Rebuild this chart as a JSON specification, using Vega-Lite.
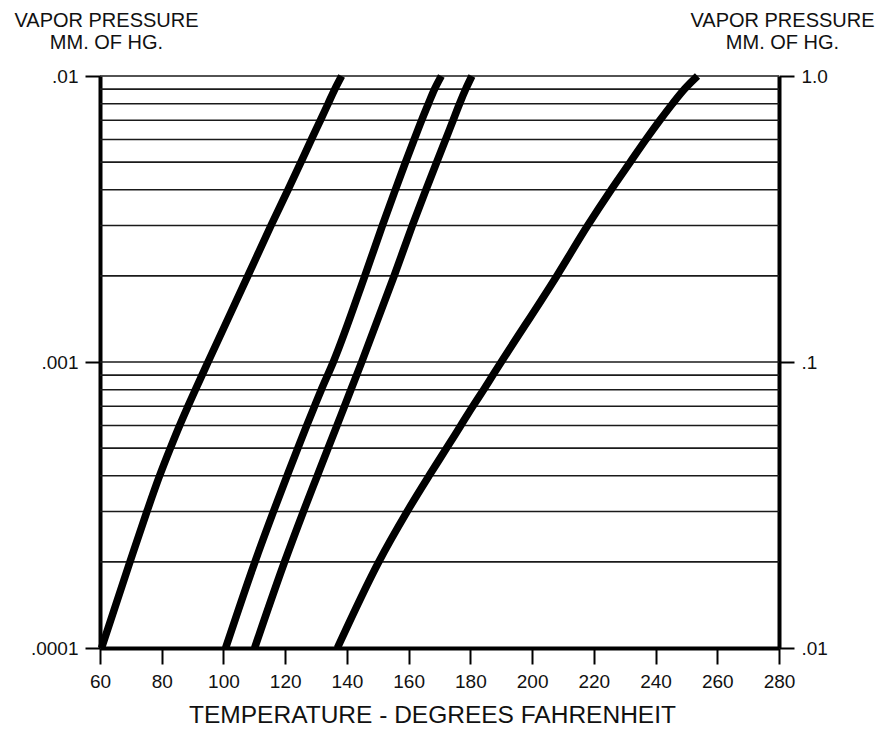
{
  "$schema": "https://vega.github.io/schema/vega-lite/v6.json",
  "width": 679,
  "height": 572,
  "autosize": "none",
  "padding": {"left": 100, "top": 76, "right": 107, "bottom": 84},
  "background": "white",
  "config": {
    "font": "Liberation Sans",
    "view": {"stroke": null},
    "axis": {"labelColor": "#111", "titleColor": "#111", "titleFontWeight": "normal", "domainColor": "black", "tickColor": "black"}
  },
  "datasets": {
    "grid": [
      {"p": 0.0002}, {"p": 0.0003}, {"p": 0.0004}, {"p": 0.0005}, {"p": 0.0006}, {"p": 0.0007}, {"p": 0.0008}, {"p": 0.0009},
      {"p": 0.001}, {"p": 0.002}, {"p": 0.003}, {"p": 0.004}, {"p": 0.005}, {"p": 0.006}, {"p": 0.007}, {"p": 0.008}, {"p": 0.009}, {"p": 0.01}
    ],
    "curves": [
      {"curve": "A", "t": 60.5, "p": 0.0001}, {"curve": "A", "t": 69.7, "p": 0.0002}, {"curve": "A", "t": 75.2, "p": 0.0003}, {"curve": "A", "t": 79.3, "p": 0.0004},
      {"curve": "A", "t": 82.8, "p": 0.0005}, {"curve": "A", "t": 85.8, "p": 0.0006}, {"curve": "A", "t": 88.5, "p": 0.0007}, {"curve": "A", "t": 90.9, "p": 0.0008},
      {"curve": "A", "t": 95.0, "p": 0.001}, {"curve": "A", "t": 107.9, "p": 0.002}, {"curve": "A", "t": 115.4, "p": 0.003}, {"curve": "A", "t": 120.9, "p": 0.004},
      {"curve": "A", "t": 125.1, "p": 0.005}, {"curve": "A", "t": 128.5, "p": 0.006}, {"curve": "A", "t": 131.4, "p": 0.007}, {"curve": "A", "t": 133.9, "p": 0.008},
      {"curve": "A", "t": 136.1, "p": 0.009}, {"curve": "A", "t": 138.3, "p": 0.01},

      {"curve": "B", "t": 100.7, "p": 0.0001}, {"curve": "B", "t": 110.2, "p": 0.0002}, {"curve": "B", "t": 116.2, "p": 0.0003}, {"curve": "B", "t": 120.6, "p": 0.0004},
      {"curve": "B", "t": 124.1, "p": 0.0005}, {"curve": "B", "t": 127.0, "p": 0.0006}, {"curve": "B", "t": 129.5, "p": 0.0007}, {"curve": "B", "t": 131.7, "p": 0.0008},
      {"curve": "B", "t": 135.6, "p": 0.001}, {"curve": "B", "t": 145.8, "p": 0.002}, {"curve": "B", "t": 151.5, "p": 0.003}, {"curve": "B", "t": 155.7, "p": 0.004},
      {"curve": "B", "t": 159.0, "p": 0.005}, {"curve": "B", "t": 161.8, "p": 0.006}, {"curve": "B", "t": 164.2, "p": 0.007}, {"curve": "B", "t": 166.4, "p": 0.008},
      {"curve": "B", "t": 168.4, "p": 0.009}, {"curve": "B", "t": 170.6, "p": 0.01},

      {"curve": "C", "t": 110.1, "p": 0.0001}, {"curve": "C", "t": 119.8, "p": 0.0002}, {"curve": "C", "t": 125.9, "p": 0.0003}, {"curve": "C", "t": 130.4, "p": 0.0004},
      {"curve": "C", "t": 133.9, "p": 0.0005}, {"curve": "C", "t": 136.8, "p": 0.0006}, {"curve": "C", "t": 139.2, "p": 0.0007}, {"curve": "C", "t": 141.3, "p": 0.0008},
      {"curve": "C", "t": 144.8, "p": 0.001}, {"curve": "C", "t": 155.3, "p": 0.002}, {"curve": "C", "t": 161.2, "p": 0.003}, {"curve": "C", "t": 165.6, "p": 0.004},
      {"curve": "C", "t": 169.1, "p": 0.005}, {"curve": "C", "t": 172.0, "p": 0.006}, {"curve": "C", "t": 174.4, "p": 0.007}, {"curve": "C", "t": 176.5, "p": 0.008},
      {"curve": "C", "t": 178.5, "p": 0.009}, {"curve": "C", "t": 180.5, "p": 0.01},

      {"curve": "D", "t": 136.9, "p": 0.0001}, {"curve": "D", "t": 150.3, "p": 0.0002}, {"curve": "D", "t": 159.5, "p": 0.0003}, {"curve": "D", "t": 166.6, "p": 0.0004},
      {"curve": "D", "t": 172.3, "p": 0.0005}, {"curve": "D", "t": 176.9, "p": 0.0006}, {"curve": "D", "t": 180.8, "p": 0.0007}, {"curve": "D", "t": 184.3, "p": 0.0008},
      {"curve": "D", "t": 187.3, "p": 0.0009}, {"curve": "D", "t": 190.0, "p": 0.001}, {"curve": "D", "t": 208.0, "p": 0.002}, {"curve": "D", "t": 218.0, "p": 0.003},
      {"curve": "D", "t": 225.6, "p": 0.004}, {"curve": "D", "t": 231.8, "p": 0.005}, {"curve": "D", "t": 236.9, "p": 0.006}, {"curve": "D", "t": 241.4, "p": 0.007},
      {"curve": "D", "t": 245.5, "p": 0.008}, {"curve": "D", "t": 249.4, "p": 0.009}, {"curve": "D", "t": 253.6, "p": 0.01}
    ]
  },
  "layer": [
    {
      "data": {"name": "grid"},
      "mark": {"type": "rule", "color": "#1a1a1a", "strokeWidth": 1.6},
      "encoding": {
        "y": {
          "field": "p",
          "type": "quantitative",
          "scale": {"type": "log", "domain": [0.0001, 0.01], "nice": false},
          "axis": {
            "orient": "left",
            "values": [0.0001, 0.001, 0.01],
            "labelExpr": "datum.value < 0.0005 ? '.0001' : datum.value < 0.005 ? '.001' : '.01'",
            "grid": false,
            "domainWidth": 4,
            "tickSize": 15,
            "tickWidth": 2,
            "labelPadding": 7,
            "labelFontSize": 19,
            "title": ["VAPOR PRESSURE", "MM. OF HG."],
            "titleAngle": 0,
            "titleX": 6,
            "titleY": -66,
            "titleAlign": "center",
            "titleBaseline": "top",
            "titleFontSize": 20,
            "titleLineHeight": 22
          }
        }
      }
    },
    {
      "data": {"name": "curves"},
      "mark": {"type": "line", "color": "black", "strokeWidth": 7.5, "strokeCap": "butt", "interpolate": "monotone"},
      "encoding": {
        "x": {
          "field": "t",
          "type": "quantitative",
          "scale": {"domain": [60, 280], "nice": false, "zero": false},
          "axis": {
            "values": [60, 80, 100, 120, 140, 160, 180, 200, 220, 240, 260, 280],
            "grid": false,
            "domainWidth": 4,
            "tickSize": 16,
            "tickWidth": 2,
            "labelPadding": 8,
            "labelFontSize": 19,
            "labelFlush": false,
            "title": "TEMPERATURE - DEGREES FAHRENHEIT",
            "titleFontSize": 24.5,
            "titlePadding": 12,
            "titleX": 332
          }
        },
        "y": {
          "field": "p",
          "type": "quantitative",
          "scale": {"type": "log", "domain": [0.0001, 0.01], "nice": false},
          "axis": {
            "orient": "right",
            "values": [0.0001, 0.001, 0.01],
            "labelExpr": "datum.value < 0.0005 ? '.01' : datum.value < 0.005 ? '.1' : '1.0'",
            "grid": false,
            "domainWidth": 4,
            "tickSize": 15,
            "tickWidth": 2,
            "labelPadding": 7,
            "labelFontSize": 19,
            "title": ["VAPOR PRESSURE", "MM. OF HG."],
            "titleAngle": 0,
            "titleX": 3,
            "titleY": -66,
            "titleAlign": "center",
            "titleBaseline": "top",
            "titleFontSize": 20,
            "titleLineHeight": 22
          }
        },
        "detail": {"field": "curve"}
      }
    }
  ],
  "resolve": {"axis": {"y": "independent"}}
}
